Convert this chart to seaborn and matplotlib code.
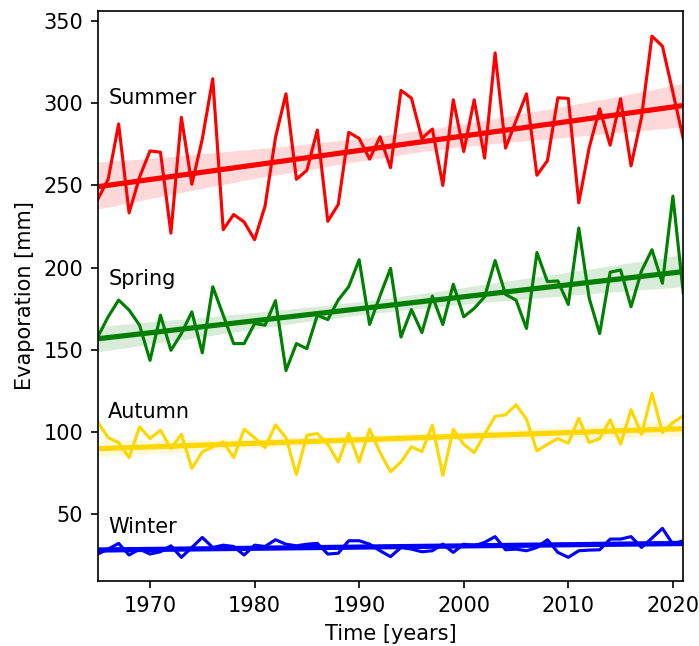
import numpy as np
import pandas as pd
import matplotlib
matplotlib.use("Agg")
import matplotlib.pyplot as plt
import seaborn as sns

years = list(range(1965, 2022))

summer = [241.5, 253.7, 287.4, 233.3, 255.0, 271.0, 270.2, 221.0, 291.4, 250.7,
          278.2, 314.9, 223.1, 232.3, 227.8, 217.0, 237.4, 279.2, 305.7, 253.7,
          259.2, 283.7, 228.2, 238.4, 282.3, 278.6, 266.0, 279.6, 260.8, 307.8,
          303.1, 278.6, 284.3, 250.0, 302.1, 270.6, 302.1, 266.6, 330.6, 272.7,
          289.4, 305.7, 256.2, 265.0, 303.3, 302.9, 239.4, 273.1, 296.6, 274.5,
          302.7, 261.9, 291.4, 340.8, 334.7, 306.7, 278.2]

spring = [157.8, 170.1, 180.3, 174.2, 165.0, 143.6, 171.1, 149.7, 159.9, 173.1,
          148.2, 188.4, 171.1, 153.8, 153.8, 166.0, 165.0, 179.9, 137.4, 153.8,
          150.7, 171.1, 168.4, 180.3, 188.4, 204.8, 165.4, 183.0, 199.6, 157.8,
          174.5, 160.5, 182.7, 165.4, 189.9, 170.1, 175.2, 182.3, 204.3, 183.7,
          180.3, 163.0, 209.2, 191.5, 191.9, 177.6, 224.1, 181.3, 159.9, 197.2,
          198.6, 176.2, 198.0, 210.9, 190.5, 243.5, 184.3]

autumn = [106.2, 96.6, 93.6, 84.4, 103.2, 96.0, 101.1, 89.9, 98.7, 77.9,
          87.9, 91.1, 94.0, 84.4, 101.7, 96.6, 90.5, 104.4, 96.6, 74.2,
          98.1, 99.1, 92.6, 81.8, 99.3, 81.8, 101.7, 87.5, 75.9, 81.8,
          91.1, 88.1, 104.2, 73.6, 101.7, 92.6, 87.5, 98.7, 109.5, 110.5,
          116.6, 107.8, 88.5, 92.6, 96.0, 93.2, 108.4, 93.6, 96.0, 107.5,
          92.6, 113.6, 98.7, 123.6, 99.7, 105.8, 109.9]

winter = [25.8, 28.8, 32.3, 25.2, 28.8, 25.8, 27.2, 30.8, 23.8, 29.8,
          35.9, 29.8, 31.2, 30.4, 25.2, 31.2, 30.4, 34.5, 31.8, 30.8,
          31.8, 32.3, 25.8, 26.3, 33.9, 33.9, 31.8, 27.8, 24.2, 29.8,
          28.8, 27.2, 27.8, 31.8, 26.8, 31.8, 30.8, 32.9, 36.4, 28.4,
          28.8, 27.8, 29.8, 34.5, 26.8, 23.8, 27.8, 28.2, 28.4, 34.9,
          34.9, 36.4, 29.8, 35.5, 41.4, 31.8, 33.9]

season_names = ["Summer", "Spring", "Autumn", "Winter"]
season_colors = ["red", "green", "gold", "blue"]
label_y = [303, 193, 112, 42]

series = [summer, spring, autumn, winter]

DPI = 150
fig = plt.figure(figsize=(699 / DPI, 646 / DPI), dpi=DPI)
ax = fig.add_axes([0.1398, 0.1006, 0.8378, 0.8824])

for name, vals, col, ly in zip(season_names, series, season_colors, label_y):
    df = pd.DataFrame({"year": years, "value": vals})
    sns.regplot(data=df, x="year", y="value", scatter=False, ci=95, color=col,
                line_kws={"lw": 2.5}, ax=ax)
    sns.lineplot(data=df, x="year", y="value", color=col, lw=1.5, ax=ax)
    ax.text(1966, ly, name, fontsize=10, va="center", ha="left")

ax.set_xlim(1965, 2021)
ax.set_ylim(9.4, 356.1)
ax.set_xticks([1970, 1980, 1990, 2000, 2010, 2020])
ax.set_yticks([50, 100, 150, 200, 250, 300, 350])
ax.set_xlabel("Time [years]")
ax.set_ylabel("Evaporation [mm]")

fig.savefig("out.png", dpi=DPI)
